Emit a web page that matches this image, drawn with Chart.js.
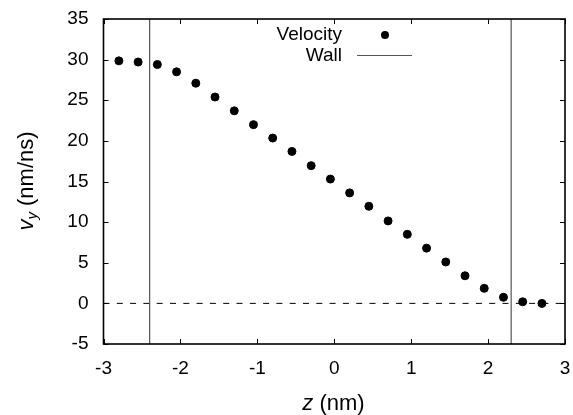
<!DOCTYPE html>
<html>
<head>
<meta charset="utf-8">
<script src="https://cdn.jsdelivr.net/npm/chart.js@4"></script>
<style>
  html, body { margin: 0; padding: 0; background: #fff; }
  #wrap { width: 573px; height: 415px; }
</style>
</head>
<body>
<div id="wrap"><canvas id="chart" width="573" height="415"></canvas></div>
<script>
// Data
const zValues = [-2.8, -2.55, -2.3, -2.05, -1.8, -1.55, -1.3, -1.05, -0.8, -0.55, -0.3, -0.05,
  0.2, 0.45, 0.7, 0.95, 1.2, 1.45, 1.7, 1.95, 2.2, 2.45, 2.7];
const velocity = [29.85, 29.7, 29.4, 28.5, 27.1, 25.4, 23.7, 22.0, 20.35, 18.7, 16.95, 15.3,
  13.6, 11.95, 10.15, 8.5, 6.8, 5.1, 3.4, 1.85, 0.75, 0.2, 0.0];
const wallPositions = [-2.4, 2.3];
const xTicks = [-3, -2, -1, 0, 1, 2, 3];
const yTicks = [-5, 0, 5, 10, 15, 20, 25, 30, 35];
const legendLabels = ['Velocity', 'Wall'];

const FONT = 'Liberation Sans, Arial, Helvetica, sans-serif';

const points = zValues.map((z, i) => ({ x: z, y: velocity[i] }));
const wallSets = wallPositions.map(z => ({
  label: 'Wall',
  data: [{ x: z, y: -5 }, { x: z, y: 35 }],
  showLine: true,
  borderColor: '#555',
  borderWidth: 1.2,
  pointRadius: 0
}));

function noPad(s) {
  s.paddingTop = 0; s.paddingBottom = 0; s.paddingLeft = 0; s.paddingRight = 0;
}

// frame, inward ticks, axis titles and legend
const decor = {
  id: 'decor',
  afterDraw(chart) {
    const { ctx, chartArea: a, scales: { x, y } } = chart;
    ctx.save();
    ctx.strokeStyle = '#000';
    ctx.lineWidth = 1;
    ctx.beginPath();
    xTicks.forEach(t => {
      const px = Math.round(x.getPixelForValue(t)) + 0.5;
      ctx.moveTo(px, a.bottom); ctx.lineTo(px, a.bottom - 5);
      ctx.moveTo(px, a.top); ctx.lineTo(px, a.top + 5);
    });
    yTicks.forEach(t => {
      const py = Math.round(y.getPixelForValue(t)) + 0.5;
      ctx.moveTo(a.left, py); ctx.lineTo(a.left + 5, py);
      ctx.moveTo(a.right, py); ctx.lineTo(a.right - 5, py);
    });
    ctx.stroke();
    ctx.lineWidth = 1.6;
    ctx.strokeRect(a.left, a.top, a.right - a.left, a.bottom - a.top);

    // axis titles
    ctx.fillStyle = '#000';
    ctx.textBaseline = 'middle';
    ctx.font = 'italic 22px ' + FONT;
    const zW = ctx.measureText('z').width;
    ctx.font = '22px ' + FONT;
    const restW = ctx.measureText(' (nm)').width;
    let sx = 333.5 - (zW + restW) / 2;
    ctx.textAlign = 'left';
    ctx.font = 'italic 22px ' + FONT;
    ctx.fillText('z', sx, 404);
    ctx.font = '22px ' + FONT;
    ctx.fillText(' (nm)', sx + zW, 404);

    ctx.translate(27, 181);
    ctx.rotate(-Math.PI / 2);
    ctx.font = 'italic 22px ' + FONT;
    const vW = ctx.measureText('v').width;
    ctx.font = 'italic 15px ' + FONT;
    const subW = ctx.measureText('y').width;
    ctx.font = '22px ' + FONT;
    const unitW = ctx.measureText(' (nm/ns)').width;
    sx = -(vW + subW + unitW) / 2;
    ctx.font = 'italic 22px ' + FONT;
    ctx.fillText('v', sx, 0);
    ctx.font = 'italic 15px ' + FONT;
    ctx.fillText('y', sx + vW, 6);
    ctx.font = '22px ' + FONT;
    ctx.fillText(' (nm/ns)', sx + vW + subW, 0);
    ctx.restore();

    // legend
    ctx.save();
    ctx.font = '19px ' + FONT;
    ctx.fillStyle = '#000';
    ctx.textAlign = 'right';
    ctx.textBaseline = 'middle';
    ctx.fillText(legendLabels[0], 342, 35);
    ctx.fillText(legendLabels[1], 342, 56);
    ctx.beginPath();
    ctx.arc(385, 35, 4, 0, Math.PI * 2);
    ctx.fill();
    ctx.strokeStyle = '#555';
    ctx.lineWidth = 1.2;
    ctx.beginPath();
    ctx.moveTo(357, 55.5); ctx.lineTo(412, 55.5);
    ctx.stroke();
    ctx.restore();
  }
};

new Chart(document.getElementById('chart'), {
  type: 'scatter',
  data: {
    datasets: [
      {
        label: 'Velocity',
        data: points,
        backgroundColor: '#000',
        borderColor: '#000',
        pointRadius: 4,
        pointHoverRadius: 4
      },
      ...wallSets,
      {
        label: 'zero',
        data: [{ x: -3, y: 0 }, { x: 3, y: 0 }],
        showLine: true,
        borderColor: '#000',
        borderWidth: 1,
        borderDash: [6, 7.3],
        pointRadius: 0
      }
    ]
  },
  options: {
    responsive: false,
    animation: false,
    layout: { padding: { top: 19, right: 8, left: 0, bottom: 0 } },
    plugins: { legend: { display: false }, tooltip: { enabled: false } },
    scales: {
      x: {
        type: 'linear',
        min: -3, max: 3,
        afterBuildTicks: s => { s.ticks = xTicks.map(v => ({ value: v })); },
        afterFit: s => { s.height = 71; noPad(s); },
        grid: { display: false, drawTicks: false },
        border: { display: false },
        ticks: { color: '#000', font: { family: FONT, size: 19 }, padding: 13, maxRotation: 0 }
      },
      y: {
        type: 'linear',
        min: -5, max: 35,
        afterBuildTicks: s => { s.ticks = yTicks.map(v => ({ value: v })); },
        afterFit: s => { s.width = 103.5; noPad(s); },
        grid: { display: false, drawTicks: false },
        border: { display: false },
        ticks: { color: '#000', font: { family: FONT, size: 19 }, padding: 15 }
      }
    }
  },
  plugins: [decor]
});
</script>
</body>
</html>
